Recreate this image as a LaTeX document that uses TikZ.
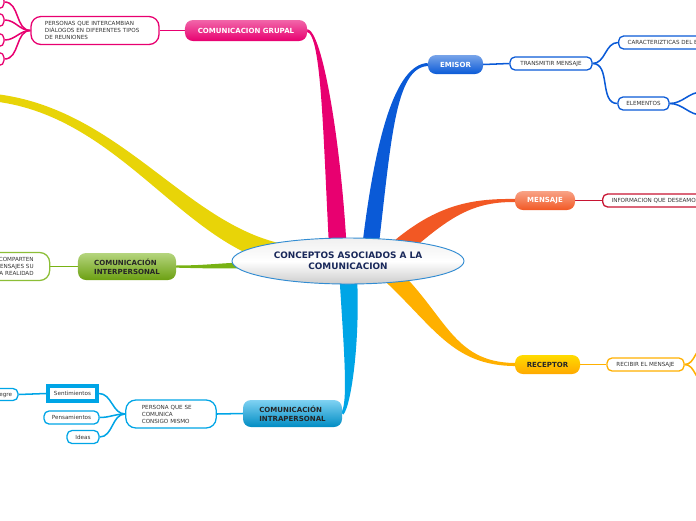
\documentclass[tikz,border=0pt]{standalone}
\usepackage{fontspec}
\setmainfont{DejaVu Sans}
\usetikzlibrary{calc,backgrounds,shapes.geometric}
\definecolor{pk}{RGB}{232,0,112}
\definecolor{bl}{RGB}{10,90,215}
\definecolor{og}{RGB}{242,88,36}
\definecolor{rd}{RGB}{200,20,50}
\definecolor{am}{RGB}{255,176,0}
\definecolor{sk}{RGB}{0,165,230}
\definecolor{gr}{RGB}{120,178,20}
\definecolor{ye}{RGB}{232,212,8}
\definecolor{nv}{RGB}{25,40,90}
\definecolor{rim}{RGB}{50,140,210}

% tapered branch: colour, start, control 1, control 2, end, half width at start, half width at end
\newcommand{\ribbon}[7]{%
  \path ($(#2)!#6!90:(#3)$) coordinate (a1) ($(#2)!#6!-90:(#3)$) coordinate (a2)
        ($(#5)!#7!-90:(#4)$) coordinate (b1) ($(#5)!#7!90:(#4)$) coordinate (b2);
  \fill[#1] (a1) .. controls ($(#3)+(a1)-(#2)$) and ($(#4)+(b1)-(#5)$) .. (b1)
        -- (b2) .. controls ($(#4)+(b2)-(#5)$) and ($(#3)+(a2)-(#2)$) .. (a2) -- cycle;}

\begin{document}
\begin{tikzpicture}[x=0.03cm, y=-0.03cm,
    topic/.style={rectangle, rounded corners=0.24cm, minimum height=0.57cm, inner sep=1pt, align=left, font=\fontsize{6}{7.4}\selectfont\bfseries},
    sub/.style={rectangle, rounded corners=0.15cm, draw, line width=1.1pt, fill=white, minimum height=0.39cm, inner xsep=0.27cm, inner ysep=0pt, font=\fontsize{4.8}{6}\selectfont, text=black!80},
    note/.style={sub, rounded corners=0.3cm, align=left, minimum height=0.84cm},
    link/.style={line width=1.3pt}
]
    \useasboundingbox (0,0) rectangle (696,520);

    % Central idea
    \node[ellipse, draw=rim, line width=0.8pt, minimum width=6.96cm, minimum height=1.38cm, inner sep=0pt, top color=gray!12, bottom color=gray!40, middle color=white, align=center, text=nv, font=\fontsize{7.6}{9.6}\selectfont\bfseries] (c) at (348,261) {CONCEPTOS ASOCIADOS A LA\\COMUNICACION};

    % Comunicacion grupal
    \node[topic, top color=pk!60!white, bottom color=pk, text=white, minimum width=3.66cm, minimum height=0.63cm] (grupal) at (246,30.5) {COMUNICACION GRUPAL};
    \node[note, draw=pk, text width=3.0cm, inner xsep=0.42cm] (personas) at (95,30.5) {PERSONAS QUE INTERCAMBIAN\\DIÁLOGOS EN DIFERENTES TIPOS\\DE REUNIONES};
    \node[sub, draw=pk, minimum width=1.2cm] (g1) at (-16,2) {};
    \node[sub, draw=pk, minimum width=1.2cm] (g2) at (-16,20) {};
    \node[sub, draw=pk, minimum width=1.2cm] (g3) at (-16,40) {};
    \node[sub, draw=pk, minimum width=1.2cm] (g4) at (-16,59) {};

    % Emisor
    \node[topic, top color=bl!55!white, bottom color=bl, text=white, minimum width=1.65cm] (emisor) at (455.5,64.5) {EMISOR};
    \node[sub, draw=bl, minimum width=2.46cm, inner xsep=0pt] (transmitir) at (551,63.5) {TRANSMITIR MENSAJE};
    \node[sub, draw=bl, anchor=west] (caract) at (618,42.5) {CARACTERIZTICAS DEL EMISOR};
    \node[sub, draw=bl, minimum width=1.53cm, inner xsep=0pt] (elementos) at (643.5,103.5) {ELEMENTOS};
    \node[sub, draw=bl, anchor=west, minimum width=1.2cm] (e1) at (702,92) {};
    \node[sub, draw=bl, anchor=west, minimum width=1.2cm] (e2) at (702,115) {};

    % Mensaje
    \node[topic, top color=og!55!white, bottom color=og, text=white, minimum width=1.8cm] (mensaje) at (545,200.5) {MENSAJE};
    \node[sub, draw=rd, anchor=west] (info) at (602,200.5) {INFORMACION QUE DESEAMOS TRANSMITIR};

    % Receptor
    \node[topic, top color=am!45!yellow, bottom color=am!85!orange, text=black!85, minimum width=1.95cm] (receptor) at (547.5,364.5) {RECEPTOR};
    \node[sub, draw=am, minimum width=2.31cm, inner xsep=0pt] (recibir) at (645.5,364.5) {RECIBIR EL MENSAJE};
    \node[sub, draw=am, anchor=west, minimum width=1.2cm] (r1) at (706,346) {};
    \node[sub, draw=am, anchor=west, minimum width=1.2cm] (r2) at (706,383) {};

    % Comunicacion intrapersonal
    \node[topic, top color=sk!50!white, bottom color=sk!85!black, text=black!85, minimum width=2.97cm, minimum height=0.81cm] (intra) at (292.5,413.5) {COMUNICACIÓN\\INTRAPERSONAL};
    \node[note, draw=sk, text width=1.75cm, inner xsep=0.48cm] (persona) at (171,414) {PERSONA QUE SE\\COMUNICA\\CONSIGO MISMO};
    \node[sub, draw=sk, rounded corners=0pt, line width=3.4pt, minimum width=1.47cm, minimum height=0.45cm, inner xsep=0pt] (sentim) at (72.5,393.5) {Sentimientos};
    \node[sub, draw=sk, minimum width=1.65cm, inner xsep=0pt] (pensam) at (71.5,417.5) {Pensamientos};
    \node[sub, draw=sk, minimum width=0.96cm, inner xsep=0pt] (ideas) at (83,437) {Ideas};
    \node[sub, draw=sk, minimum width=0.9cm, minimum height=0.36cm, inner xsep=0pt] (alegre) at (3,394.5) {Alegre};

    % Comunicacion interpersonal
    \node[topic, top color=gr!55!white, bottom color=gr!90!black, text=black!85, minimum width=2.94cm, minimum height=0.81cm] (inter) at (127,266.5) {COMUNICACIÓN\\INTERPERSONAL};
    \node[note, draw=gr!85!white, text width=1.9cm, inner xsep=0.48cm, align=right] (comparten) at (2,266.5) {QUE COMPARTEN\\MENSAJES SU\\PROPIA REALIDAD};

    \coordinate (yel) at (-12,97);

    \begin{pgfonlayer}{background}
    % Main branches
    \coordinate (pk0) at (338,250); \coordinate (pk1) at (332,140); \coordinate (pk2) at (322,33);
    \ribbon{pk}{pk0}{pk1}{pk2}{grupal.east}{7.5pt}{1.2pt}
    \coordinate (bl0) at (370,250); \coordinate (bl1) at (383,140); \coordinate (bl2) at (395,66);
    \ribbon{bl}{bl0}{bl1}{bl2}{emisor.west}{7pt}{1.3pt}
    \coordinate (og0) at (392,255); \coordinate (og1) at (440,212); \coordinate (og2) at (470,200);
    \ribbon{og}{og0}{og1}{og2}{mensaje.west}{8pt}{1.3pt}
    \coordinate (am0) at (388,272); \coordinate (am1) at (440,320); \coordinate (am2) at (452,364);
    \ribbon{am}{am0}{am1}{am2}{receptor.west}{7.5pt}{1.3pt}
    \coordinate (sk0) at (348,272); \coordinate (sk1) at (352,340); \coordinate (sk2) at (350,405);
    \ribbon{sk}{sk0}{sk1}{sk2}{intra.east}{7.5pt}{1.3pt}
    \coordinate (gr0) at (250,265); \coordinate (gr1) at (220,266); \coordinate (gr2) at (200,267);
    \ribbon{gr}{gr0}{gr1}{gr2}{inter.east}{2.5pt}{1pt}
    \coordinate (ye0) at (290,256); \coordinate (ye1) at (185,240); \coordinate (ye2) at (120,108);
    \ribbon{ye}{ye0}{ye1}{ye2}{yel}{9pt}{3.2pt}

    % Sub links
    \draw[link, pk] (grupal.west) -- (personas.east);
    \foreach \n in {g1,g2,g3,g4}
        \draw[link, pk] (personas.west) to[out=180, in=0] (\n.east);
    \draw[link, bl] (emisor.east) -- (transmitir.west);
    \draw[link, bl] (transmitir.east) to[out=0, in=180] (caract.west);
    \draw[link, bl] (transmitir.east) to[out=0, in=180] (elementos.west);
    \draw[link, bl] (elementos.east) to[out=0, in=180] (e1.west);
    \draw[link, bl] (elementos.east) to[out=0, in=180] (e2.west);
    \draw[link, rd] (mensaje.east) -- (info.west);
    \draw[link, am] (receptor.east) -- (recibir.west);
    \draw[link, am] (recibir.east) to[out=0, in=180] (r1.west);
    \draw[link, am] (recibir.east) to[out=0, in=180] (r2.west);
    \draw[link, sk] (intra.west) -- (persona.east);
    \foreach \n in {sentim,pensam,ideas}
        \draw[link, sk] (persona.west) to[out=180, in=0] (\n.east);
    \draw[link, sk] (sentim.west) -- (alegre.east);
    \draw[link, gr] (inter.west) -- (comparten.east);
    \end{pgfonlayer}
\end{tikzpicture}
\end{document}
